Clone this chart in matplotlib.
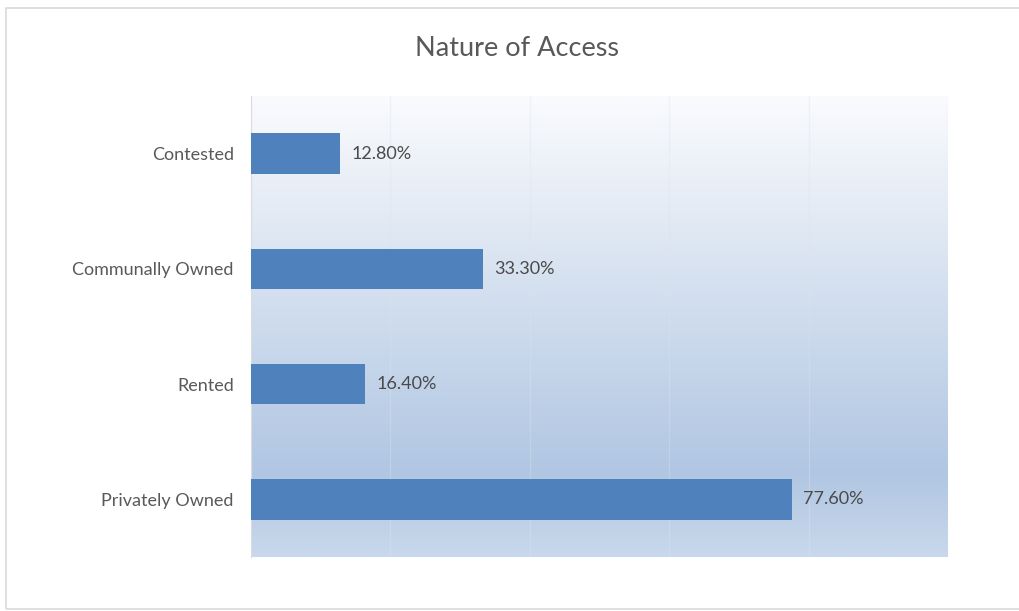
import numpy as np
import matplotlib.pyplot as plt
from matplotlib.colors import LinearSegmentedColormap
from matplotlib.patches import Rectangle

categories = ["Privately Owned", "Rented", "Communally Owned", "Contested"]
shares = [77.6, 16.4, 33.3, 12.8]
value_labels = ["77.60%", "16.40%", "33.30%", "12.80%"]

plt.rcParams['font.family'] = ['Lato', 'DejaVu Sans']
text_grey = '#595959'

fig = plt.figure(figsize=(10.2, 6.11), dpi=100)
ax = fig.add_axes([251 / 1020, 1 - 557 / 611, 697 / 1020, 461 / 611])

# chart frame
fig.patches.append(Rectangle((6 / 1020, 2 / 611), 1.2, 601 / 611, transform=fig.transFigure,
                             fill=False, edgecolor='#D9D9D9', lw=1.2))

# gradient plot area
grad = LinearSegmentedColormap.from_list(
    'area', [(0.0, '#FAFBFD'), (0.82, '#B0C6E2'), (1.0, '#C9D8EB')])
ax.imshow(np.linspace(0, 1, 256).reshape(-1, 1), cmap=grad, aspect='auto',
          extent=[0, 1, 0, 1], transform=ax.transAxes, zorder=0)

y = np.arange(len(categories))
ax.barh(y, shares, height=0.35, color='#4F81BD', zorder=3)
for yi, v, lab in zip(y, shares, value_labels):
    ax.text(v + 1.6, yi, lab, va='center', ha='left', fontsize=13, color='#4A4A4A', zorder=4)

ax.set_xlim(0, 100)
ax.set_ylim(-0.5, 3.5)
ax.set_xticks(np.arange(0, 101, 20))
ax.xaxis.grid(True, color='#DCE4EF', lw=1, alpha=0.35, zorder=1)
ax.set_axisbelow(False)
ax.tick_params(axis='x', bottom=False, labelbottom=False)
ax.tick_params(axis='y', left=False, labelsize=13, labelcolor=text_grey, pad=9)
ax.set_yticks(y)
ax.set_yticklabels(categories)
for s in ['top', 'right', 'bottom']:
    ax.spines[s].set_visible(False)
ax.spines['left'].set_color('#D9D9D9')

fig.text(517 / 1020, 1 - 49 / 611, "Nature of Access", ha='center', va='center',
         fontsize=19.5, color=text_grey)

fig.savefig('out.png', dpi=100)
